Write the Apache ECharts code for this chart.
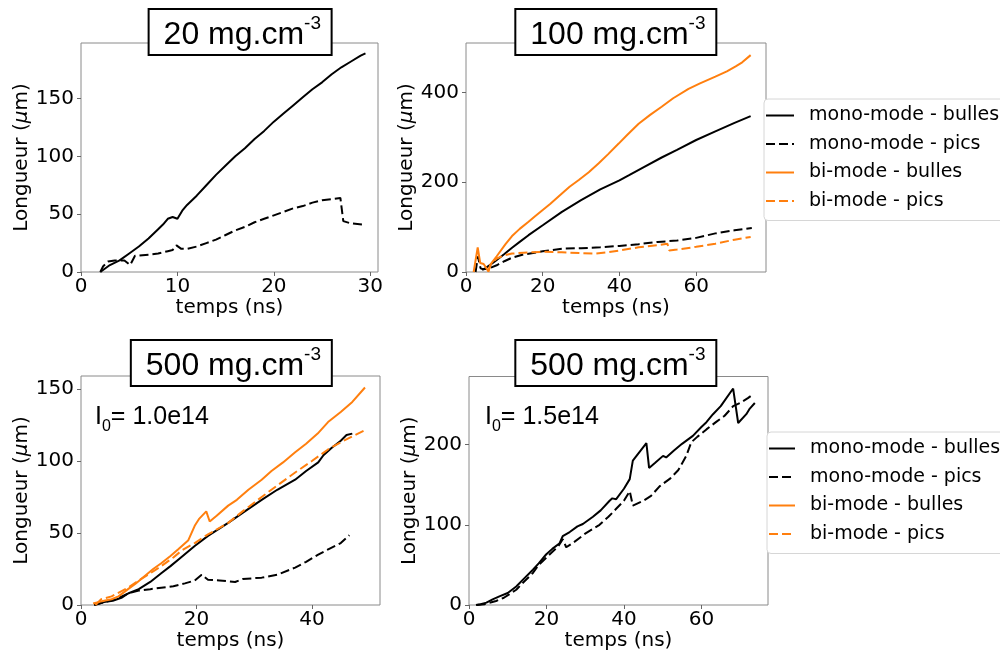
<!DOCTYPE html>
<html>
<head>
<meta charset="utf-8">
<script src="https://cdn.jsdelivr.net/npm/echarts@6/dist/echarts.min.js"></script>
<style>html,body{margin:0;padding:0;background:#fff}#c{width:1000px;height:655px}</style>
</head>
<body>
<div id="c"></div>
<script>
// ---------- names ----------
const seriesNames = ['mono-mode - bulles', 'mono-mode - pics', 'bi-mode - bulles', 'bi-mode - pics'];
const panelTitles = ['20 mg.cm', '100 mg.cm', '500 mg.cm', '500 mg.cm'];
const annotations = ['', '', '1.0e14', '1.5e14'];

// ---------- tick values ----------
const xTicks = [[0, 10, 20, 30], [0, 20, 40, 60], [0, 20, 40], [0, 20, 40, 60]];
const yTicks = [[0, 50, 100, 150], [0, 200, 400], [0, 50, 100, 150], [0, 100, 200]];

// ---------- data: 20 mg.cm-3 ----------
const d20_monoBulles = [[2.0,0],[2.5,3],[3,6],[4,10],[5,16],[6,22],[7,29],[8,37],[8.5,41],[9,46],[9.5,47.5],[10,46],[10.5,53],[11,58],[12,66],[13,75],[14,84],[15,92],[16,100],[17,107],[18,115],[19,122],[20,130],[21,137],[22,144],[23,151],[24,158],[25,164],[26,171],[27,177],[28,182],[29,187],[29.5,189]];
const d20_monoPics = [[2,0],[2.3,5],[2.8,9],[3.5,10],[4.5,10],[5.1,6],[5.6,14],[7,15],[8,16],[9,18],[9.5,19],[9.9,23],[10.4,20],[11,20],[12,22],[13,25],[14,28],[15,32],[16,36],[17,39],[18,43],[19,46],[20,49],[21,52],[22,55],[23,57],[24,60],[25,62],[26,63],[26.9,64],[27.2,44],[28,42],[29.3,41]];

// ---------- data: 100 mg.cm-3 ----------
const d100_monoBulles = [[4.2,5],[5,8],[7.6,24],[10,40],[12,54],[14,67],[16.3,82],[20,104],[25,134],[30,160],[35,184],[40,204],[42.4,215],[46,232],[51,255],[55,272],[60,294],[65,313],[70,332],[74.2,347]];
const d100_monoPics = [[2.5,0],[3.1,35],[3.8,8],[4.5,6],[6,8],[8,15],[10,24],[12,32],[15,39],[20,46],[25,52],[30,53],[35,55],[40,58],[45,62],[50,67],[55,70],[60,76],[65,86],[70,93],[74.5,98]];
const d100_biBulles = [[2,0],[3.05,55],[3.7,20],[4.6,18],[5.8,2],[6.5,18],[8,35],[10.3,62],[12,80],[14,96],[16.3,112],[18,124],[20,138],[22,152],[25,175],[27,190],[29.4,205],[32,222],[34.6,242],[37,262],[39.8,286],[42,305],[45,330],[48,350],[51,368],[54,387],[58,408],[61,420],[65,435],[68,447],[70.3,458],[72,467],[74.2,483]];
const d100_biPics = [[5.8,0],[6.3,15],[7,22],[8,30],[10,37],[12,41],[15,43],[20,45],[25,44],[30,42],[33.7,41],[37,44],[40,48],[45,55],[50,60],[52.5,63],[53,48],[55,50],[60,56],[65,63],[70,72],[74.2,78]];

// ---------- data: 500 mg.cm-3, I0 = 1.0e14 ----------
const d500a_monoBulles = [[2.3,0],[4,2],[5.5,3],[7,5],[8.15,8],[10,11],[12,16],[13.9,22],[15.5,27],[17,32],[19.7,41],[22,48],[25.5,57],[28,64],[31.3,73],[34,80],[37.1,87],[39,93],[41.1,99],[42,104],[43.4,109],[45,114],[46,118],[47,119]];
const d500a_monoPics = [[2.3,0],[4,2],[6,4],[8.15,8],[10,10],[12,11],[13.9,12],[16,13],[18,15],[19.7,17],[20.9,21],[22,17.5],[24,17],[26.7,16],[28,18],[31.3,19],[34,21],[37.1,26],[39,30],[41.1,35],[43,39],[45,43],[46.5,48.5]];
const d500a_biBulles = [[2.1,1],[3,2],[4,3],[5.3,4],[6.5,6],[8.15,11],[9.5,15],[11,20],[12.5,25],[13.9,29],[15.5,34],[16.8,38.5],[18.6,45],[19.7,55],[20.5,60],[21.7,65],[22.3,58],[23.5,62],[25.5,69],[27,73],[29,80],[31.3,87],[33,93],[35,99],[37.1,106],[39,112],[41,119],[42.8,127],[45,134],[47,141],[49.2,151]];
const d500a_biPics = [[2.5,0],[3.5,4],[5.3,6],[8.15,12],[10,17],[12,22],[13.9,27],[16,33],[17.5,38],[19.7,43],[22,49],[25.5,57],[28,65],[31.3,75],[34,83],[37.1,92],[40,100],[42.8,108],[45,113],[47,117],[49.5,122]];

// ---------- data: 500 mg.cm-3, I0 = 1.5e14 ----------
const d500b_monoBulles = [[1.8,0],[3,1],[4.5,3],[6.1,7],[8,11],[10,15],[12.2,23],[14,32],[16.5,44],[18,52],[19.9,63],[21.5,70],[23.4,77],[24.2,86],[26,91],[28,98],[29.4,101],[32,110],[34,118],[36.3,130],[37,133],[38,132],[40,145],[41.5,157],[42.3,180],[45.8,202],[46.5,171],[48,177],[50.1,186],[50.9,184],[53,193],[55,201],[57.8,211],[60,222],[61.3,228],[63,238],[65,248],[68.2,270],[69.5,227],[71.6,238],[72.5,245],[73.8,252]];
const d500b_monoPics = [[2,0],[4,1],[7,5],[9,9],[12.2,19],[14,28],[16.5,40],[18,50],[20.8,63],[23,73],[24.2,82],[25.1,72],[27,78],[30,89],[33.7,100],[36,110],[38,120],[40,130],[41.5,142],[42.3,124],[45,130],[47,136],[49.2,148],[52,158],[54,168],[56.1,186],[57.4,203],[59,210],[61.3,219],[64,229],[66,236],[68.2,248],[70,252],[72,258],[73.4,263]];

// ---------- layout ----------
const grids = [
  {left: 81, top: 43, width: 297, height: 229},
  {left: 466, top: 43, width: 300, height: 229},
  {left: 81, top: 376, width: 299, height: 229},
  {left: 469, top: 376.5, width: 299, height: 228.5}
];
const xMax = [30.8, 78.2, 51.8, 77.2];
const yMax = [198, 510, 159, 285];

const BLACK = '#000000', ORANGE = '#ff7f0e';
const DASH = [9, 4];

function line(name, data, gi, color, dashed) {
  return {
    type: 'line', name: name, data: data, xAxisIndex: gi, yAxisIndex: gi,
    showSymbol: false, symbol: 'none', smooth: false,
    lineStyle: {color: color, width: 2, type: dashed ? DASH : 'solid'},
    itemStyle: {color: color}, emphasis: {disabled: true}
  };
}

const series = [
  line(seriesNames[0], d20_monoBulles, 0, BLACK, false),
  line(seriesNames[1], d20_monoPics, 0, BLACK, true),
  line(seriesNames[0], d100_monoBulles, 1, BLACK, false),
  line(seriesNames[1], d100_monoPics, 1, BLACK, true),
  line(seriesNames[2], d100_biBulles, 1, ORANGE, false),
  line(seriesNames[3], d100_biPics, 1, ORANGE, true),
  line(seriesNames[0], d500a_monoBulles, 2, BLACK, false),
  line(seriesNames[1], d500a_monoPics, 2, BLACK, true),
  line(seriesNames[2], d500a_biBulles, 2, ORANGE, false),
  line(seriesNames[3], d500a_biPics, 2, ORANGE, true),
  line(seriesNames[0], d500b_monoBulles, 3, BLACK, false),
  line(seriesNames[1], d500b_monoPics, 3, BLACK, true)
];

const FONT = 'DejaVu Sans';
const xAxes = grids.map((g, i) => ({
  type: 'value', gridIndex: i, min: 0, max: xMax[i],
  axisLine: {show: false},
  axisTick: {show: true, length: 4, inside: false, customValues: xTicks[i], lineStyle: {color: '#666'}},
  axisLabel: {color: '#000', fontSize: 20, fontFamily: FONT, margin: 5, customValues: xTicks[i]},
  splitLine: {show: false},
  name: 'temps (ns)', nameLocation: 'middle', nameGap: 25,
  nameTextStyle: {color: '#000', fontSize: 20, fontFamily: FONT}
}));
const yAxes = grids.map((g, i) => ({
  type: 'value', gridIndex: i, min: 0, max: yMax[i],
  axisLine: {show: false},
  axisTick: {show: true, length: 4, inside: false, customValues: yTicks[i], lineStyle: {color: '#666'}},
  axisLabel: {color: '#000', fontSize: 20, fontFamily: FONT, margin: 7, customValues: yTicks[i]},
  splitLine: {show: false},
  name: '{a|Longueur (}{b|μ}{a|m)}', nameLocation: 'middle', nameGap: 49,
  nameTextStyle: {color: '#000', fontSize: 20, fontFamily: FONT,
    rich: {a: {fontSize: 20, fontFamily: FONT, color: '#000'},
           b: {fontSize: 20, fontFamily: FONT, fontStyle: 'italic', color: '#000'}}}
}));

const titleRich = {
  a: {fontSize: 32, fontFamily: 'Liberation Sans', fontWeight: 'normal', color: '#000', lineHeight: 42},
  s: {fontSize: 19, fontFamily: 'Liberation Sans', fontWeight: 'normal', color: '#000', lineHeight: 22, verticalAlign: 'top'}
};
const titleRight = [668, 283.5, 668, 283.5];
const titleTop = [9, 9, 340, 340];
const titles = panelTitles.map((t, i) => ({
  text: '{a|' + t + '}{s|-3}', right: titleRight[i], top: titleTop[i],
  padding: [5, 11, 4, 15], borderWidth: 2, borderColor: '#000', backgroundColor: '#fff',
  textStyle: {fontWeight: 'normal', rich: titleRich}
}));
const annRich = {
  a: {fontSize: 25, fontFamily: 'Liberation Sans', fontWeight: 'normal', color: '#000', lineHeight: 28},
  b: {fontSize: 16, fontFamily: 'Liberation Sans', fontWeight: 'normal', color: '#000', lineHeight: 8, padding: [20, 0, 0, 0]}
};
const annLeft = [0, 0, 95, 485];
annotations.forEach((a, i) => {
  if (!a) return;
  titles.push({
    text: '{a|I}{b|0}{a|= ' + a + '}', left: annLeft[i], top: 403, padding: 0,
    textStyle: {fontWeight: 'normal', rich: annRich}
  });
});

function legend(left, top, itemWidth) {
  return {
    orient: 'vertical', left: left, top: top, data: seriesNames,
    itemWidth: itemWidth, itemHeight: 19, itemGap: 9.5,
    padding: [7, 14, 10, 1], borderColor: '#d6d6d6', borderWidth: 1, borderRadius: 4,
    backgroundColor: '#fff', selectedMode: false,
    itemStyle: {opacity: 0},
    textStyle: {fontSize: 19, fontFamily: FONT, color: '#000', padding: [0, 0, 0, 10]}
  };
}

const chart = echarts.init(document.getElementById('c'), null, {renderer: 'canvas'});
chart.setOption({
  animation: false,
  backgroundColor: '#fff',
  textStyle: {fontFamily: FONT},
  title: titles,
  grid: grids.map(g => Object.assign({show: true, borderColor: '#8a8a8a', borderWidth: 1, backgroundColor: 'transparent'}, g)),
  xAxis: xAxes,
  yAxis: yAxes,
  legend: [legend(764, 99, 28), legend(767, 432, 26)],
  series: series
});
</script>
</body>
</html>
